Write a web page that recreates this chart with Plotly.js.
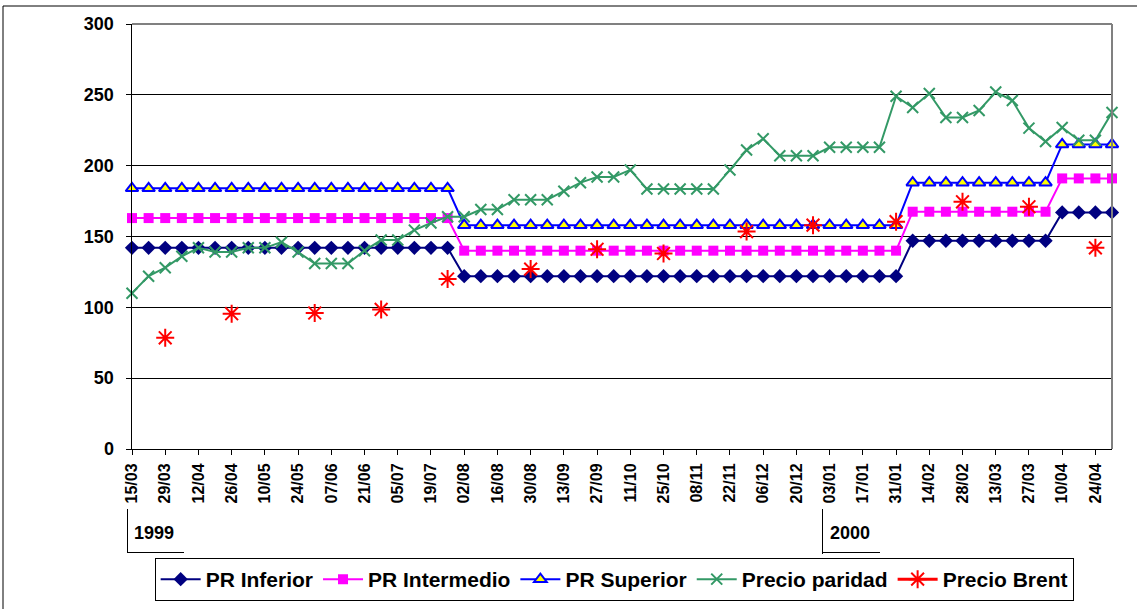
<!DOCTYPE html>
<html>
<head>
<meta charset="utf-8">
<script src="https://cdn.plot.ly/plotly-3.0.1.min.js"></script>
<style>
html,body{margin:0;padding:0;background:#fff;}
#chart{width:1137px;height:609px;}
</style>
</head>
<body>
<div id="chart"></div>
<script>
// Weekly dates (Mondays)
var weeks = [
 "1999-03-15","1999-03-22","1999-03-29","1999-04-05","1999-04-12","1999-04-19","1999-04-26",
 "1999-05-03","1999-05-10","1999-05-17","1999-05-24","1999-05-31","1999-06-07","1999-06-14",
 "1999-06-21","1999-06-28","1999-07-05","1999-07-12","1999-07-19","1999-07-26","1999-08-02",
 "1999-08-09","1999-08-16","1999-08-23","1999-08-30","1999-09-06","1999-09-13","1999-09-20",
 "1999-09-27","1999-10-04","1999-10-11","1999-10-18","1999-10-25","1999-11-01","1999-11-08",
 "1999-11-15","1999-11-22","1999-11-29","1999-12-06","1999-12-13","1999-12-20","1999-12-27",
 "2000-01-03","2000-01-10","2000-01-17","2000-01-24","2000-01-31","2000-02-07","2000-02-14",
 "2000-02-21","2000-02-28","2000-03-06","2000-03-13","2000-03-20","2000-03-27","2000-04-03",
 "2000-04-10","2000-04-17","2000-04-24","2000-05-01"
];

var prInferior = [
 142,142,142,142,142,142,142,142,142,142,142,142,142,142,142,142,142,142,142,142,
 122,122,122,122,122,122,122,122,122,122,122,122,122,122,122,122,122,122,122,122,
 122,122,122,122,122,122,122,
 147,147,147,147,147,147,147,147,147,
 167,167,167,167
];
var prIntermedio = [
 163,163,163,163,163,163,163,163,163,163,163,163,163,163,163,163,163,163,163,163,
 140,140,140,140,140,140,140,140,140,140,140,140,140,140,140,140,140,140,140,140,
 140,140,140,140,140,140,140,
 167.5,167.5,167.5,167.5,167.5,167.5,167.5,167.5,167.5,
 191,191,191,191
];
var prSuperior = [
 184,184,184,184,184,184,184,184,184,184,184,184,184,184,184,184,184,184,184,184,
 158,158,158,158,158,158,158,158,158,158,158,158,158,158,158,158,158,158,158,158,
 158,158,158,158,158,158,158,
 188,188,188,188,188,188,188,188,188,
 215,215,215,215
];
var precioParidad = [
 110,122,128,136,142,139,139,142,142,146,139,131,131,131,140,147.5,147.5,154.5,159.5,164,
 164,169,169,176,176,176,182,188,192,192,197,183.5,183.5,183.5,183.5,183.5,197,211,219,207,
 207,207,213,213,213,213,249,241,251,234,234,239,252,246,226.5,217,227,218,218,237.5
];
var precioBrent = [
 null,null,78.5,null,null,null,95.5,null,null,null,null,96,null,null,null,98.5,null,null,null,120,
 null,null,null,null,127,null,null,null,141,null,null,null,138,null,null,null,null,153.5,null,null,
 null,158,null,null,null,null,160.5,null,null,null,174.5,null,null,null,171,null,null,null,142,null
];

var FONT = '"Liberation Sans", Arial, sans-serif';

var traces = [
 {x: weeks, y: prInferior, name: 'PR Inferior', mode: 'lines+markers', cliponaxis: false,
  line: {color: '#000080', width: 2},
  marker: {symbol: 'diamond', size: 11, color: '#000080'}},
 {x: weeks, y: prIntermedio, name: 'PR Intermedio', mode: 'lines+markers', cliponaxis: false,
  line: {color: '#FF00FF', width: 2},
  marker: {symbol: 'square', size: 10, color: '#FF00FF'}},
 {x: weeks, y: prSuperior, name: 'PR Superior', mode: 'lines+markers', cliponaxis: false,
  line: {color: '#0000FF', width: 2},
  marker: {symbol: 'triangle-up', size: 11, color: '#FFFF00', line: {color: '#0000FF', width: 2}}},
 {x: weeks, y: precioParidad, name: 'Precio paridad', mode: 'lines+markers', cliponaxis: false,
  line: {color: '#339966', width: 2},
  marker: {symbol: 'x-thin-open', size: 11, color: '#339966', line: {color: '#339966', width: 2}}},
 {x: weeks, y: precioBrent, name: 'Precio Brent', mode: 'lines+markers', cliponaxis: false,
  connectgaps: false,
  line: {color: '#FF0000', width: 3},
  marker: {symbol: 'asterisk-open', size: 15, color: '#FF0000', line: {color: '#FF0000', width: 2}}}
];

function px(x){ return (x - 132) / 980; }
function py(y){ return (449 - y) / 425; }

var layout = {
 width: 1137, height: 609,
 margin: {l: 132, r: 25, t: 24, b: 160, autoexpand: false},
 paper_bgcolor: '#ffffff', plot_bgcolor: '#ffffff',
 font: {family: FONT, color: '#000'},
 showlegend: true,
 legend: {orientation: 'h', x: 0.492, xanchor: 'center', y: py(558), yanchor: 'top',
  bordercolor: '#000', borderwidth: 1, bgcolor: '#fff',
  font: {family: FONT, size: 21, weight: 'bold', color: '#000'},
  itemwidth: 40, tracegroupgap: 0},
 xaxis: {type: 'date', range: ['1999-03-15', '2000-05-01'],
  tick0: '1999-03-15', dtick: 14 * 86400000, tickformat: '%d/%m', tickangle: -90,
  ticks: 'outside', ticklen: 5, tickcolor: '#000', tickwidth: 1, ticklabelstandoff: 2,
  showgrid: false, zeroline: false, showline: true, linecolor: '#000', linewidth: 1,
  tickfont: {family: FONT, size: 16, weight: 'bold', color: '#000'}},
 yaxis: {range: [0, 300], dtick: 50, tick0: 0,
  ticks: 'outside', ticklen: 5, tickcolor: '#000', tickwidth: 1, ticklabelstandoff: 8,
  showgrid: true, gridcolor: '#000', gridwidth: 1, zeroline: false,
  showline: true, linecolor: '#000', linewidth: 1.5,
  tickfont: {family: FONT, size: 18, weight: 'bold', color: '#000'}},
 shapes: [
  // plot area top and right border (gray)
  {type: 'line', xref: 'paper', yref: 'paper', x0: 0, x1: 1, y0: 1, y1: 1, line: {color: '#808080', width: 2}},
  {type: 'line', xref: 'paper', yref: 'paper', x0: 1, x1: 1, y0: 0, y1: 1, line: {color: '#808080', width: 2}},
  // outer chart border
  {type: 'line', xref: 'paper', yref: 'paper', x0: px(3), x1: px(3), y0: py(612), y1: py(6), line: {color: '#000', width: 1}},
  {type: 'line', xref: 'paper', yref: 'paper', x0: px(3), x1: px(1140), y0: py(6), y1: py(6), line: {color: '#000', width: 1}},
  // year brackets
  {type: 'line', xref: 'paper', yref: 'paper', x0: px(127.5), x1: px(127.5), y0: py(509), y1: py(553), line: {color: '#000', width: 1}},
  {type: 'line', xref: 'paper', yref: 'paper', x0: px(127.5), x1: px(184), y0: py(552.5), y1: py(552.5), line: {color: '#000', width: 1}},
  {type: 'line', xref: 'paper', yref: 'paper', x0: px(822.5), x1: px(822.5), y0: py(509), y1: py(554), line: {color: '#000', width: 1}},
  {type: 'line', xref: 'paper', yref: 'paper', x0: px(822.5), x1: px(880), y0: py(552.5), y1: py(552.5), line: {color: '#000', width: 1}}
 ],
 annotations: [
  {text: '1999', xref: 'paper', yref: 'paper', x: px(132), y: py(533), xanchor: 'left', yanchor: 'middle',
   showarrow: false, font: {family: FONT, size: 18, weight: 'bold', color: '#000'}},
  {text: '2000', xref: 'paper', yref: 'paper', x: px(828), y: py(533), xanchor: 'left', yanchor: 'middle',
   showarrow: false, font: {family: FONT, size: 18, weight: 'bold', color: '#000'}}
 ]
};

Plotly.newPlot('chart', traces, layout, {staticPlot: true, displayModeBar: false});
</script>
</body>
</html>
